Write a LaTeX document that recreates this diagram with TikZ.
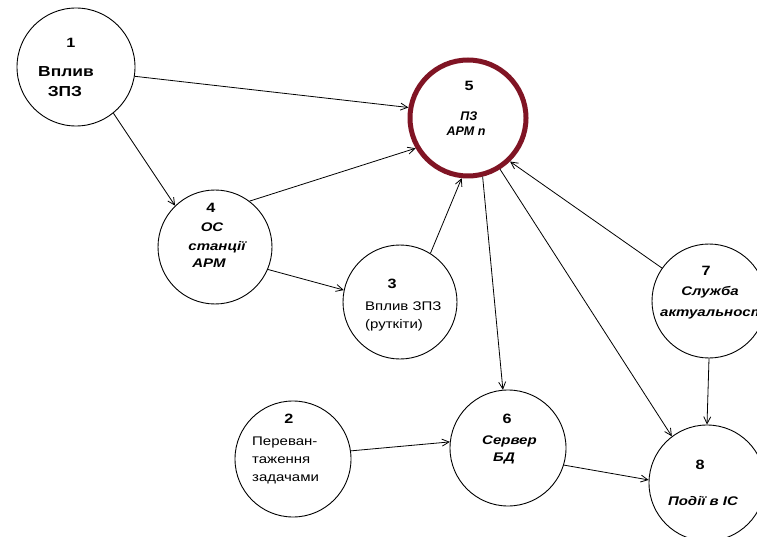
\documentclass[tikz,border=0pt]{standalone}
\usepackage{fontspec}
\setmainfont{Liberation Sans}
\newfontfamily\wideface[FakeStretch=1.2]{Liberation Sans}
\usetikzlibrary{arrows.meta}
\definecolor{ringred}{RGB}{128,20,36}
\tikzset{
  state/.style={circle, draw=black, line width=0.9pt, inner sep=0pt, minimum size=#1},
  state/.default=114pt,
  hot/.style={circle, draw=ringred, line width=5pt, inner sep=0pt, minimum size=116pt},
  link/.style={draw=black, line width=0.8pt, -{Straight Barb[length=7pt,width=7pt]}},
  num/.style={font=\wideface\bfseries\fontsize{13.5}{15}\selectfont, inner sep=0pt, anchor=base},
  big/.style={font=\wideface\bfseries\fontsize{14.5}{16}\selectfont, inner sep=0pt, anchor=base},
  lbl/.style={font=\wideface\bfseries\itshape\fontsize{12.5}{14}\selectfont, inner sep=0pt, anchor=base},
  small/.style={font=\bfseries\itshape\fontsize{12.5}{14}\selectfont, inner sep=0pt, anchor=base},
  plain/.style={font=\wideface\fontsize{12.5}{14}\selectfont, inner sep=0pt, anchor=base west},
}
\begin{document}
\begin{tikzpicture}[x=1pt,y=-1pt]
  \path[use as bounding box, clip] (0,0) rectangle (757,537);
  \fill[white] (0,0) rectangle (757,537);

  % states
  \node[state=118pt] (n1) at (76,67) {};
  \node[hot] (n5) at (468,118) {};
  \node[state] (n4) at (215,247) {};
  \node[state] (n3) at (400,302) {};
  \node[state] (n7) at (709,301) {};
  \node[state=116pt] (n2) at (293,459) {};
  \node[state=116pt] (n6) at (508,448) {};
  \node[state=116pt] (n8) at (707,483) {};

  % labels
  \node[num] (t1) at (71,48) {1};
  \node[big] (t1a) at (66,77) {Вплив};
  \node[big] (t1b) at (65,97) {ЗПЗ};

  \node[num] (t5) at (469,91) {5};
  \node[small] (t5a) at (469,121) {ПЗ};
  \node[small] (t5b) at (466,136) {АРМ n};

  \node[num] (t4) at (211,213) {4};
  \node[lbl] (t4a) at (212,232) {ОС};
  \node[lbl] (t4b) at (217,251) {станції};
  \node[lbl] (t4c) at (209,267) {АРМ};

  \node[num] (t3) at (392,288) {3};
  \node[plain] (t3a) at (365,310) {Вплив ЗПЗ};
  \node[plain] (t3b) at (365,328) {(руткіти)};

  \node[num] (t7) at (706,275) {7};
  \node[lbl] (t7a) at (710,295) {Служба};
  \node[lbl, anchor=base west] (t7b) at (660,316) {актуальності};

  \node[num] (t2) at (289,423) {2};
  \node[plain] (t2a) at (252,445) {Переван-};
  \node[plain] (t2b) at (252,463) {таження};
  \node[plain] (t2c) at (252,481) {задачами};

  \node[num] (t6) at (507,423) {6};
  \node[lbl, anchor=base west] (t6a) at (482,444) {Сервер};
  \node[lbl, anchor=base west] (t6b) at (493,461) {БД};

  \node[num] (t8) at (700,469) {8};
  \node[lbl] (t8a) at (703,505) {Події в ІС};

  % influences
  \draw[link] (n1.-9.6) -- (n5.170);
  \draw[link] (n1.-51) -- (n4.134);
  \draw[link] (n4.53) -- (n5.210);
  \draw[link] (n4.-23) -- (n3.168);
  \draw[link] (n3.58) -- (n5.264.6);
  \draw[link] (n5.284) -- (n6.95);
  \draw[link] (n5.302) -- (n8.127);
  \draw[link] (n7.145.5) -- (n5.314);
  \draw[link] (n7.270) -- (n8.90);
  \draw[link] (n2.8.5) -- (n6.174);
  \draw[link] (n6.-17.5) -- (n8.177);
\end{tikzpicture}
\end{document}
